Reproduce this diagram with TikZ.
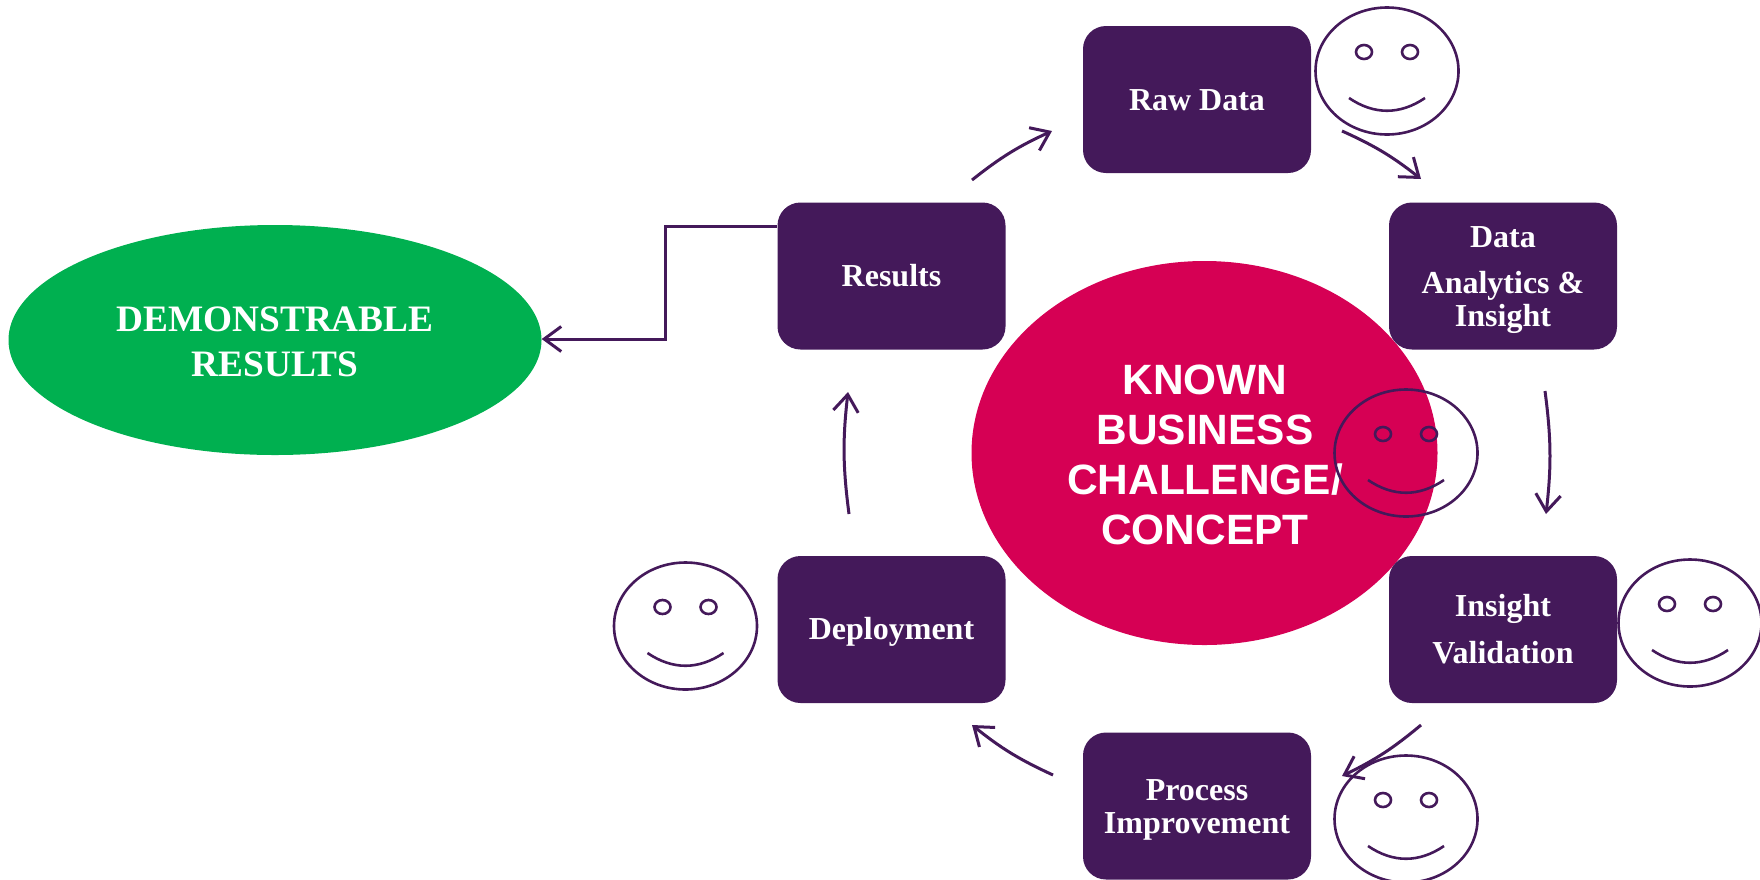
\documentclass[tikz,border=0pt]{standalone}
\usepackage{fontspec}
\setmainfont{Liberation Serif}
\newfontfamily\arialf{Liberation Sans}
\usetikzlibrary{arrows.meta,shapes.geometric,calc}
\definecolor{plum}{HTML}{44195A}
\definecolor{rosepink}{HTML}{D60054}
\definecolor{grn}{HTML}{00B050}
\tikzset{
  x=1pt,y=-1pt,
  stepbox/.style={draw=none,fill=plum,rounded corners=23pt,minimum width=228pt,minimum height=147pt,inner sep=0pt},
  steptext/.style={inner sep=0pt,text=white,align=center,font=\fontsize{32}{36}\selectfont\bfseries},
  flow/.style={draw=plum,line width=3pt,-{Straight Barb[length=17pt,width=25pt,line width=3pt]}},
  facepart/.style={draw=plum,line width=2.6pt},
  smiley/.pic={
    \draw[facepart] (0,0) ellipse[x radius=71.5pt,y radius=63.5pt];
    \draw[facepart] (-23,-19) ellipse[x radius=8pt,y radius=7pt];
    \draw[facepart] (23,-19) ellipse[x radius=8pt,y radius=7pt];
    \draw[facepart] (-38,27) .. controls (-13,44) and (13,44) .. (38,27);
  }
}
\begin{document}
\begin{tikzpicture}
\useasboundingbox (0,0) rectangle (1760,879);
\node[ellipse,fill=rosepink,minimum width=466pt,minimum height=384pt,inner sep=0pt] (core) at (1204.5,453) {};
\node[text=white,align=center,font=\arialf\fontsize{42.4}{50}\selectfont\bfseries] (coretext) at (1205,455) {KNOWN\\BUSINESS\\CHALLENGE/\\CONCEPT};
\node[ellipse,fill=grn,minimum width=533pt,minimum height=230pt,inner sep=0pt] (demo) at (275,340) {};
\node[text=white,align=center,font=\fontsize{37.3}{45}\selectfont\bfseries] (demotext) at (275,341.5) {DEMONSTRABLE\\RESULTS};
\node[stepbox] (raw) at (1197,99.5) {};
\node[stepbox] (data) at (1503,276) {};
\node[stepbox] (valid) at (1503,629.5) {};
\node[stepbox] (proc) at (1197,806) {};
\node[stepbox] (depl) at (891.5,629.5) {};
\node[stepbox] (res) at (891.5,276) {};
\node[steptext] (rawtext) at (1197,100) {Raw Data};
\node[steptext] (datatext) at (1503,280) {Data\\[10.5pt]Analytics \&\\[-3pt]Insight};
\node[steptext] (validtext) at (1503,629.5) {Insight\\[11pt]Validation};
\node[steptext] (proctext) at (1197,810) {Process\\[-3pt]Improvement};
\node[steptext] (depltext) at (891.5,632) {Deployment};
\node[steptext] (restext) at (891.5,276) {Results};
\pic at (1387,71) {smiley};
\pic at (1406,453) {smiley};
\pic at (1690,623) {smiley};
\pic at (1406,819) {smiley};
\pic at (685.5,626) {smiley};
\coordinate (a1) at (972,180); \coordinate (a2) at (1052,131);
\coordinate (b1) at (1342,131); \coordinate (b2) at (1421,179);
\coordinate (c1) at (1545,391); \coordinate (c2) at (1546,514);
\coordinate (d1) at (1421,725); \coordinate (d2) at (1342,776);
\coordinate (e1) at (1053,775); \coordinate (e2) at (972,725);
\coordinate (f1) at (849,514); \coordinate (f2) at (848,392);
\coordinate (elbowstart) at (777,226);
\coordinate (elbowtop) at (665,226);
\coordinate (elbowlow) at (665,339);
\draw[flow] (a1) to[bend left=7] (a2);
\draw[flow] (b1) to[bend left=7] (b2);
\draw[flow] (c1) to[bend left=7] (c2);
\draw[flow] (d1) to[bend left=7] (d2);
\draw[flow] (e1) to[bend left=7] (e2);
\draw[flow] (f1) to[bend left=7] (f2);
\draw[flow] (elbowstart) -- (elbowtop) -- (elbowlow) -- (demo.east |- elbowlow);
\end{tikzpicture}
\end{document}
